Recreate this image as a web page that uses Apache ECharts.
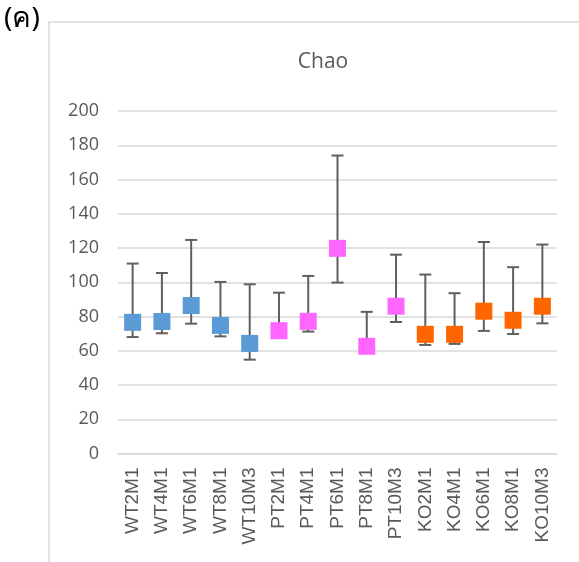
<!DOCTYPE html>
<html><head><meta charset="utf-8">
<script src="https://cdn.jsdelivr.net/npm/echarts@6/dist/echarts.min.js"></script>
<style>html,body{margin:0;padding:0;background:#fff}#c{width:579px;height:562px}</style>
</head><body><div id="c"></div>
<script>
var categories = ['WT2M1','WT4M1','WT6M1','WT8M1','WT10M3','PT2M1','PT4M1','PT6M1','PT8M1','PT10M3','KO2M1','KO4M1','KO6M1','KO8M1','KO10M3'];
var means = [76.6, 77.1, 86.4, 74.8, 64.3, 71.7, 77.2, 119.8, 62.6, 86.0, 69.6, 69.6, 83.1, 77.8, 86.0];
var lows  = [68.0, 70.2, 75.8, 68.4, 54.8, 68.0, 71.2, 99.8, 60.0, 76.8, 63.4, 64.0, 71.6, 69.8, 76.0];
var highs = [110.9, 105.4, 124.7, 100.2, 98.8, 93.9, 103.7, 174.0, 82.7, 116.1, 104.5, 93.6, 123.5, 108.8, 122.0];
var yTicks = [0, 20, 40, 60, 80, 100, 120, 140, 160, 180, 200];

var groupColors = {WT: '#5B9BD5', PT: '#FF66FF', KO: '#FF6600'};
var textColor = '#595959';
var gridColor = '#D9D9D9';

var chart = echarts.init(document.getElementById('c'), null, {renderer: 'canvas'});
var errData = categories.map(function (c, i) { return [i, lows[i], highs[i]]; });
var markData = categories.map(function (c, i) {
  return {value: [i, means[i]], itemStyle: {color: groupColors[c.slice(0, 2)], opacity: 1}};
});

chart.setOption({
  animation: false,
  title: {text: 'Chao', left: 318, top: 47, textAlign: 'center',
    textStyle: {fontFamily: 'Open Sans', fontSize: 21, fontWeight: 'normal', color: textColor}},
  graphic: [
    {type: 'rect', shape: {x: 49, y: 22, width: 700, height: 700},
      style: {fill: 'none', stroke: gridColor, lineWidth: 1.5}, silent: true},
    {type: 'text', left: 4, top: 5,
      style: {text: '(ค)', fontSize: 28, fontFamily: 'Noto Sans, DejaVu Sans, sans-serif', fill: '#000'}}
  ],
  grid: {left: 118, right: 22, top: 111, bottom: 108.5, containLabel: false},
  xAxis: {
    type: 'category', data: categories, boundaryGap: true,
    axisLine: {show: true, lineStyle: {color: gridColor, width: 1.5}},
    axisTick: {show: false},
    axisLabel: {rotate: 90, margin: 14, color: textColor, fontFamily: 'Liberation Sans', fontSize: 19, interval: 0}
  },
  yAxis: {
    type: 'value', min: yTicks[0], max: yTicks[yTicks.length - 1], interval: 20,
    axisLine: {show: false}, axisTick: {show: false},
    axisLabel: {margin: 19, color: textColor, fontFamily: 'Open Sans', fontSize: 18},
    splitLine: {lineStyle: {color: gridColor, width: 1.5}}
  },
  series: [
    {
      type: 'custom', z: 2,
      data: errData,
      renderItem: function (params, api) {
        var x = api.value(0);
        var top = api.coord([x, api.value(2)]);
        var bot = api.coord([x, api.value(1)]);
        var hw = 6;
        var st = {stroke: '#5F5F5F', lineWidth: 2};
        return {type: 'group', children: [
          {type: 'line', shape: {x1: top[0], y1: top[1], x2: bot[0], y2: bot[1]}, style: st},
          {type: 'line', shape: {x1: top[0] - hw, y1: top[1], x2: top[0] + hw, y2: top[1]}, style: st},
          {type: 'line', shape: {x1: bot[0] - hw, y1: bot[1], x2: bot[0] + hw, y2: bot[1]}, style: st}
        ]};
      }
    },
    {
      type: 'scatter', z: 3, symbol: 'rect', symbolSize: 17,
      itemStyle: {opacity: 1},
      data: markData
    }
  ]
});
</script></body></html>
